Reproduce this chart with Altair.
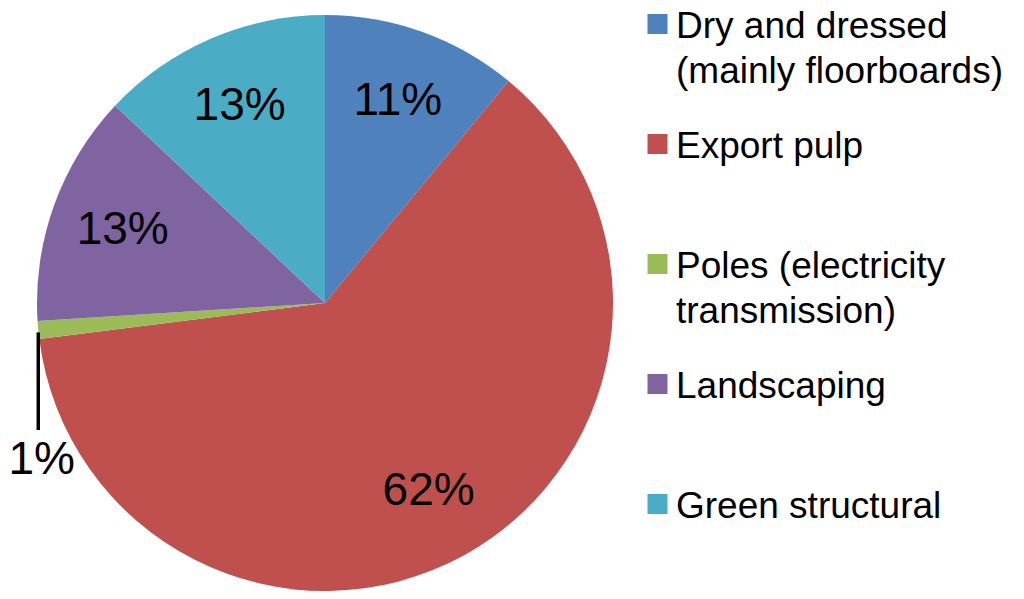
import math
import altair as alt
import pandas as pd

# ---- data ----
categories = [
    "Dry and dressed\n(mainly floorboards)",
    "Export pulp",
    "Poles (electricity\ntransmission)",
    "Landscaping",
    "Green structural",
]
shares = [11, 62, 1, 13, 13]
colors = ["#4F81BD", "#C0504D", "#9BBB59", "#8064A2", "#4BACC6"]
outside_label = "Poles (electricity\ntransmission)"

FONT = "Liberation Sans"
W, H = 634, 576
R = 288

df = pd.DataFrame({
    "category": categories,
    "share": shares,
    "order": list(range(len(categories))),
})
df["label"] = [f"{s}%" if c != outside_label else "" for c, s in zip(categories, shares)]

# leader line for the small slice, in pie-radius units (1 = radius)
total = sum(shares)
i = categories.index(outside_label)
mid = (sum(shares[:i]) + shares[i] / 2) / total
ang = 2 * math.pi * mid
ex, ey = math.sin(ang), math.cos(ang)
leader = pd.DataFrame({
    "x": [ex], "y": [ey - 0.008], "y2": [ey - 0.347],
    "lx": [ex + 0.012], "ly": [ey - 0.45],
    "text": [f"{shares[i]}%"],
})

color_scale = alt.Scale(domain=categories, range=colors)
legend = alt.Legend(
    title=None, orient="none", legendX=631, legendY=-25,
    symbolType="M-1,0.55H1V2.55H-1Z", symbolSize=400, symbolStrokeWidth=0,
    symbolOpacity=1,
    labelFont=FONT, labelFontSize=37, labelColor="#000000",
    labelOffset=0, labelBaseline="top", labelLimit=600,
    labelExpr="split(datum.label, '\\n')",
    rowPadding=20, gridAlign="all", padding=0,
)

base = alt.Chart(df).encode(
    theta=alt.Theta("share:Q", stack=True),
    order=alt.Order("order:Q"),
)
arcs = base.mark_arc(outerRadius=R).encode(
    color=alt.Color("category:N", scale=color_scale, legend=legend, sort=categories),
)
labels = base.mark_text(radius=215, font=FONT, fontSize=46, color="#000000").encode(
    text="label:N"
)

xs = alt.Scale(domain=[-W / 2 / R, W / 2 / R])
ys = alt.Scale(domain=[-H / 2 / R, H / 2 / R])
rule = alt.Chart(leader).mark_rule(color="#000000", strokeWidth=3.5).encode(
    x=alt.X("x:Q", scale=xs, axis=None),
    y=alt.Y("y:Q", scale=ys, axis=None),
    y2="y2:Q",
)
out_text = alt.Chart(leader).mark_text(font=FONT, fontSize=46, color="#000000").encode(
    x=alt.X("lx:Q", scale=xs, axis=None),
    y=alt.Y("ly:Q", scale=ys, axis=None),
    text="text:N",
)

chart = alt.layer(arcs, labels, rule, out_text).properties(
    width=W, height=H,
    autosize=alt.AutoSizeParams(type="none"),
    padding={"left": 0, "top": 7, "right": 366, "bottom": 0},
).configure(
    style={"guide-label": {"lineHeight": 45}},
    view=alt.ViewConfig(stroke=None),
)

chart.save("out.html", embed_options={"renderer": "svg", "actions": False})
